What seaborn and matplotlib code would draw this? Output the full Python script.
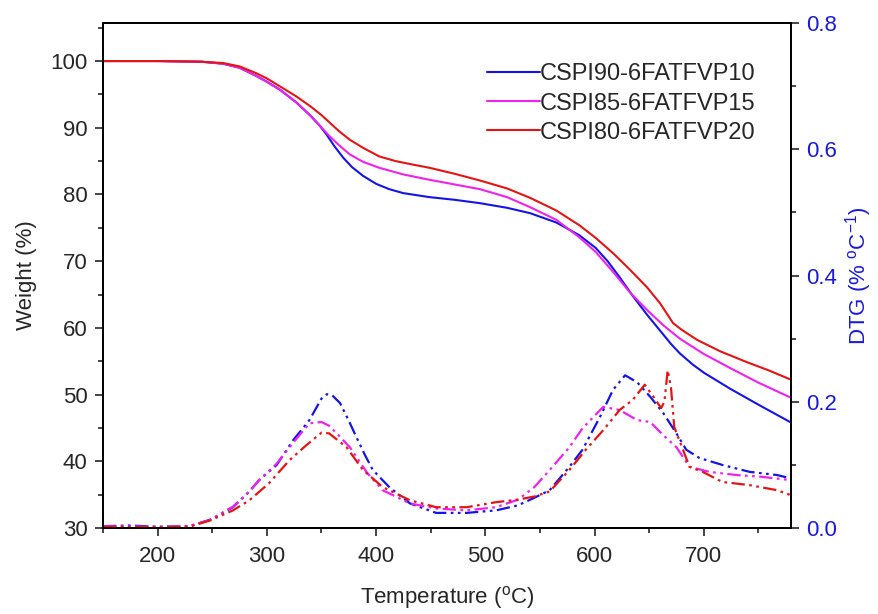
import matplotlib
matplotlib.use("Agg")
import matplotlib.pyplot as plt
import seaborn as sns
import pandas as pd
from matplotlib.ticker import MultipleLocator

# ---------------- data ----------------
labels = ["CSPI90-6FATFVP10", "CSPI85-6FATFVP15", "CSPI80-6FATFVP20"]
colors = ["#1414e6", "#ee22ee", "#e41414"]

tga_T_blue = [150, 200, 240, 260, 275, 290, 300, 312, 327, 340, 348, 355, 362, 370, 378, 388, 400, 412, 425, 449, 472, 495, 520, 541, 565, 586, 601, 612, 623, 635, 648, 660, 670, 678, 690, 700, 724, 750, 779]
tga_W_blue = [100, 100, 99.9, 99.6, 99.0, 97.8, 96.9, 95.7, 93.8, 91.8, 90.4, 88.9, 87.2, 85.5, 84.1, 82.8, 81.6, 80.8, 80.2, 79.6, 79.2, 78.7, 78.0, 77.2, 75.8, 73.9, 72.0, 70.0, 67.6, 64.8, 62.0, 59.6, 57.6, 56.2, 54.5, 53.3, 50.9, 48.5, 45.9]

tga_T_mag = [150, 200, 240, 260, 275, 290, 300, 312, 327, 340, 348, 357, 366, 376, 388, 403, 425, 449, 472, 495, 520, 541, 565, 586, 601, 617, 632, 648, 663, 678, 700, 724, 750, 779]
tga_W_mag = [100, 100, 99.9, 99.6, 99.0, 97.8, 96.9, 95.7, 93.8, 91.8, 90.4, 88.8, 87.4, 86.0, 84.9, 84.0, 83.0, 82.2, 81.5, 80.8, 79.6, 78.1, 76.2, 73.6, 71.4, 68.4, 65.4, 62.7, 60.4, 58.4, 56.1, 54.0, 51.8, 49.6]

tga_T_red = [150, 200, 240, 260, 275, 290, 300, 312, 327, 340, 350, 358, 366, 376, 388, 403, 418, 433, 449, 472, 495, 520, 541, 565, 586, 601, 617, 632, 648, 660, 666, 672, 680, 694, 715, 739, 760, 779]
tga_W_red = [100, 100, 99.9, 99.7, 99.2, 98.2, 97.4, 96.2, 94.7, 93.2, 91.9, 90.7, 89.5, 88.2, 87.0, 85.7, 85.0, 84.5, 84.0, 83.1, 82.1, 80.9, 79.5, 77.6, 75.4, 73.5, 71.2, 68.8, 66.1, 63.7, 62.2, 60.7, 59.7, 58.2, 56.5, 54.9, 53.6, 52.3]

dtg_T_blue = [150, 175, 200, 229, 248, 269, 284, 293, 309, 324, 339, 350, 355, 360, 367, 375, 382, 390, 397, 412, 431, 455, 483, 510, 530, 545, 559, 577, 589, 605, 617, 628, 639, 651, 663, 675, 684, 696, 717, 742, 767, 779]
dtg_D_blue = [0.003, 0.004, 0.002, 0.003, 0.013, 0.033, 0.058, 0.076, 0.100, 0.139, 0.171, 0.205, 0.212, 0.210, 0.198, 0.170, 0.144, 0.115, 0.092, 0.065, 0.039, 0.024, 0.024, 0.028, 0.036, 0.048, 0.060, 0.097, 0.124, 0.176, 0.219, 0.242, 0.231, 0.208, 0.182, 0.150, 0.124, 0.111, 0.100, 0.089, 0.084, 0.079]

dtg_T_mag = [150, 200, 229, 248, 269, 284, 293, 309, 324, 339, 350, 357, 364, 376, 392, 406, 431, 455, 483, 510, 530, 545, 559, 577, 589, 608, 623, 639, 651, 663, 675, 687, 705, 730, 754, 779]
dtg_D_mag = [0.003, 0.002, 0.003, 0.013, 0.034, 0.058, 0.076, 0.102, 0.135, 0.166, 0.168, 0.162, 0.150, 0.128, 0.087, 0.060, 0.039, 0.031, 0.028, 0.033, 0.045, 0.065, 0.092, 0.128, 0.158, 0.192, 0.187, 0.171, 0.168, 0.147, 0.128, 0.097, 0.089, 0.084, 0.081, 0.076]

dtg_T_red = [150, 200, 229, 248, 269, 284, 302, 321, 336, 350, 357, 373, 388, 406, 431, 455, 483, 510, 530, 545, 559, 577, 592, 608, 623, 635, 646, 654, 661, 664, 667, 670, 673, 681, 687, 699, 717, 742, 767, 780]
dtg_D_red = [0.002, 0.001, 0.002, 0.012, 0.028, 0.044, 0.071, 0.108, 0.131, 0.151, 0.150, 0.128, 0.092, 0.065, 0.044, 0.033, 0.033, 0.041, 0.045, 0.050, 0.058, 0.092, 0.124, 0.155, 0.187, 0.203, 0.227, 0.208, 0.190, 0.200, 0.250, 0.223, 0.160, 0.124, 0.097, 0.089, 0.073, 0.068, 0.060, 0.052]

tga_sets = [(tga_T_blue, tga_W_blue), (tga_T_mag, tga_W_mag), (tga_T_red, tga_W_red)]
dtg_sets = [(dtg_T_blue, dtg_D_blue), (dtg_T_mag, dtg_D_mag), (dtg_T_red, dtg_D_red)]

# ---------------- style ----------------
sns.set_style("ticks")
plt.rcParams["font.family"] = ["Liberation Sans", "DejaVu Sans"]
plt.rcParams["mathtext.fontset"] = "custom"
plt.rcParams["mathtext.rm"] = "Liberation Sans"
plt.rcParams["mathtext.it"] = "Liberation Sans"
plt.rcParams["font.size"] = 16

FS = 16
BLUE_TXT = "#1a1ad6"

fig = plt.figure(figsize=(8.79, 6.14), dpi=100)
ax = fig.add_axes([0.1172, 0.140, 0.7828, 0.8225])
ax2 = ax.twinx()

for (T, W), lab, c in zip(tga_sets, labels, colors):
    df = pd.DataFrame({"T": T, "W": W})
    sns.lineplot(data=df, x="T", y="W", ax=ax, color=c, lw=1.5, label=lab, sort=False)

for (T, D), c in zip(dtg_sets, colors):
    df = pd.DataFrame({"T": T, "D": D})
    sns.lineplot(data=df, x="T", y="D", ax=ax2, color=c, lw=1.6, sort=False,
                 linestyle=(0, (6, 2, 1.2, 2, 1.2, 2)))

ax.set_xlim(150, 780)
ax.set_ylim(30, 105.7)
ax2.set_ylim(0, 0.8)

ax.xaxis.set_major_locator(MultipleLocator(100))
ax.xaxis.set_minor_locator(MultipleLocator(50))
ax.yaxis.set_minor_locator(MultipleLocator(5))
ax.set_yticks([30, 40, 50, 60, 70, 80, 90, 100])
ax2.yaxis.set_minor_locator(MultipleLocator(0.1))
ax2.set_yticks([0.0, 0.2, 0.4, 0.6, 0.8])
ax2.set_yticklabels(["0.0", "0.2", "0.4", "0.6", "0.8"])

for a in (ax, ax2):
    a.tick_params(which="major", direction="out", length=6, width=1.2, labelsize=FS, pad=5)
    a.tick_params(which="minor", direction="out", length=3.5, width=1.2)
    for s in a.spines.values():
        s.set_visible(True)
        s.set_linewidth(1.3)
        s.set_color("black")
ax.tick_params(axis="x", pad=7)

ax2.tick_params(axis="y", labelcolor=BLUE_TXT)

ax.set_xlabel(r"Temperature ($^{\mathrm{o}}$C)", fontsize=FS, labelpad=12)
ax.set_ylabel("Weight (%)", fontsize=FS, labelpad=10)
ax2.set_ylabel(r"DTG (% $^{\mathrm{o}}$C$^{-1}$)", fontsize=FS, color=BLUE_TXT, labelpad=4)

leg = ax.legend(loc="upper left", bbox_to_anchor=(0.558, 0.92), frameon=False,
                fontsize=17, handlelength=2.25, handletextpad=0.0, labelspacing=0.3,
                borderaxespad=0, borderpad=0)
for line in leg.get_lines():
    line.set_linewidth(1.5)

fig.savefig("out.png", dpi=100)
